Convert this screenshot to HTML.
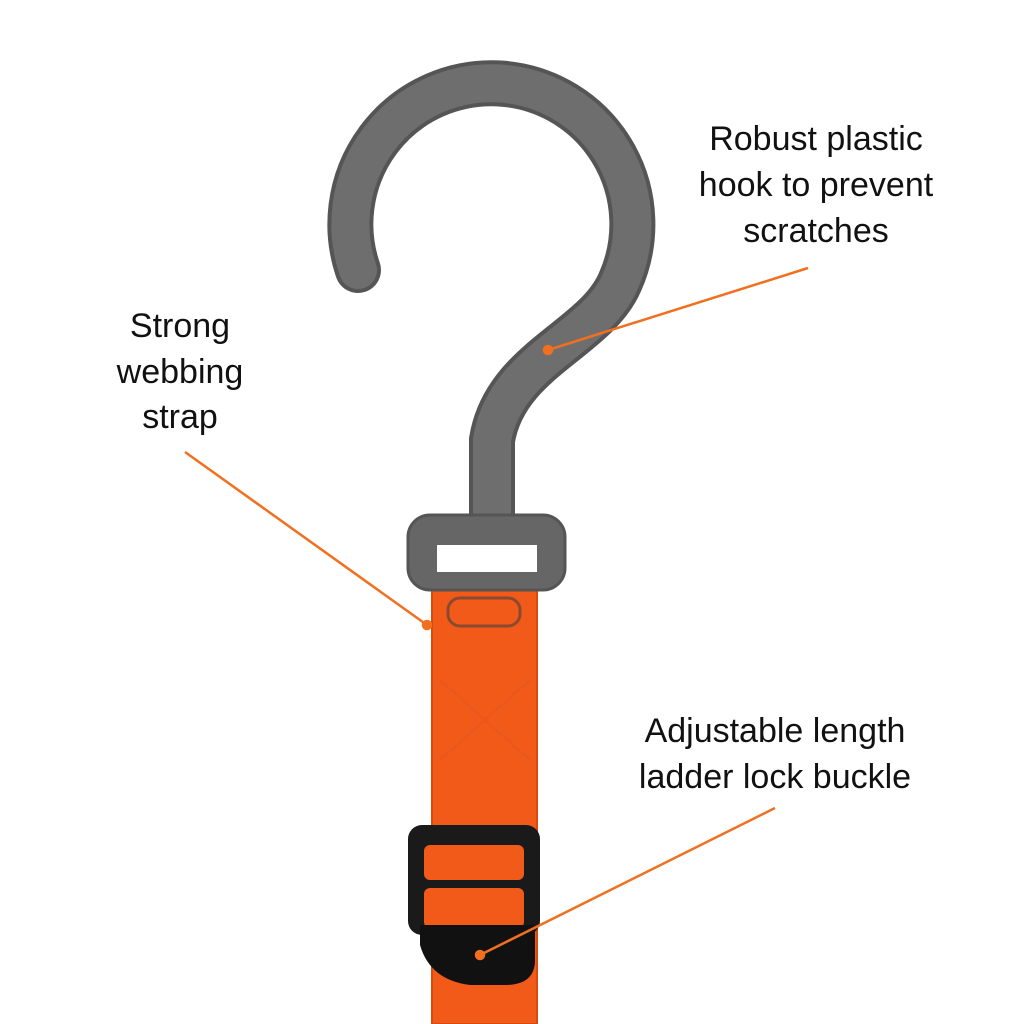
<!DOCTYPE html>
<html><head><meta charset="utf-8"><style>
html,body{margin:0;padding:0;background:#fff;}
svg{display:block}
text{font-family:"Liberation Sans",sans-serif;font-size:34px;fill:#111;text-anchor:middle}
</style></head><body>
<svg width="1024" height="1024" viewBox="0 0 1024 1024" xmlns="http://www.w3.org/2000/svg">
<rect width="1024" height="1024" fill="#fff"/>
<rect x="432" y="568" width="105" height="456" fill="#f25a1a"/>
<rect x="432" y="568" width="105" height="456" fill="none" stroke="#d94a10" stroke-width="2"/>
<rect x="448" y="598" width="72" height="28" rx="12" fill="none" stroke="#8a4a30" stroke-width="3"/>
<path d="M440 680 L530 760 M530 680 L440 760" stroke="#e8581e" stroke-width="2"/>
<path d="M358 270 A141 141 0 1 1 620 282 C595 340 505 360 492 440 L492 530" fill="none" stroke="#555" stroke-width="46" stroke-linecap="round"/>
<path d="M358 270 A141 141 0 1 1 620 282 C595 340 505 360 492 440 L492 530" fill="none" stroke="#6e6e6e" stroke-width="38" stroke-linecap="round"/>
<rect x="408" y="515" width="157" height="75" rx="22" fill="#666" stroke="#555" stroke-width="3"/>
<rect x="437" y="545" width="100" height="27" fill="#fff"/>
<rect x="408" y="825" width="132" height="110" rx="14" fill="#1a1a1a"/>
<rect x="424" y="845" width="100" height="35" rx="6" fill="#f25a1a"/>
<rect x="424" y="888" width="100" height="40" rx="6" fill="#f25a1a"/>
<path d="M420 925 L535 925 L535 960 Q535 985 505 985 L470 985 Q430 980 420 945 Z" fill="#111"/>
<g stroke="#f07020" stroke-width="2.5" fill="#f07020">
<line x1="808" y1="268" x2="548" y2="350"/><circle cx="548" cy="350" r="4"/>
<line x1="185" y1="452" x2="427" y2="625"/><circle cx="427" cy="625" r="4"/>
<line x1="775" y1="808" x2="480" y2="955"/><circle cx="480" cy="955" r="4"/>
</g>
<text x="816" y="150">Robust plastic</text>
<text x="816" y="196">hook to prevent</text>
<text x="816" y="242">scratches</text>
<text x="180" y="337">Strong</text>
<text x="180" y="383">webbing</text>
<text x="180" y="428">strap</text>
<text x="775" y="742">Adjustable length</text>
<text x="775" y="788">ladder lock buckle</text>
</svg>
</body></html>
